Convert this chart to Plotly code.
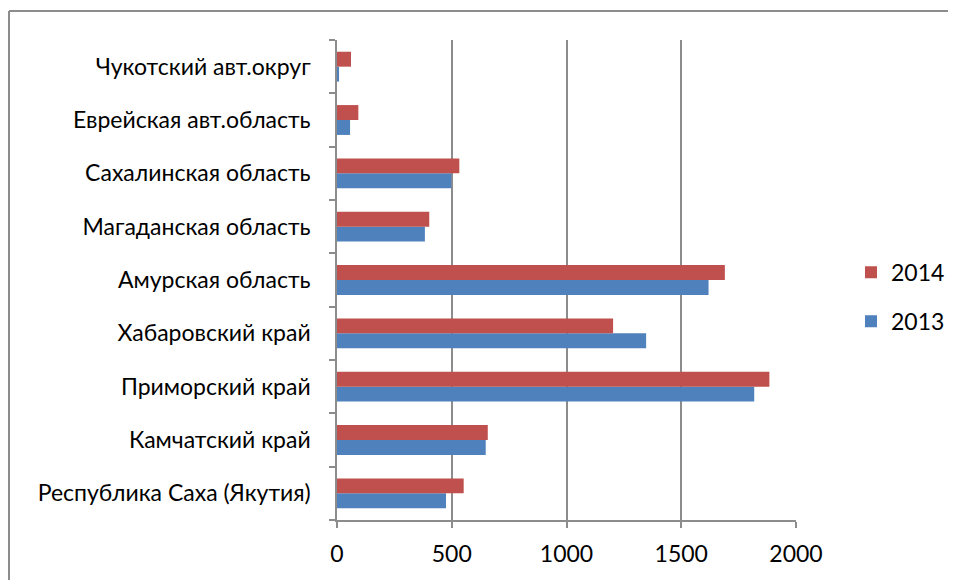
import plotly.graph_objects as go

categories = ["Республика Саха (Якутия)", "Камчатский край", "Приморский край",
              "Хабаровский край", "Амурская область", "Магаданская область",
              "Сахалинская область", "Еврейская авт.область", "Чукотский авт.округ"]
values_2013 = [475, 648, 1818, 1347, 1619, 383, 498, 57, 9]
values_2014 = [552, 657, 1884, 1203, 1690, 402, 533, 93, 61]
x_ticks = [0, 500, 1000, 1500, 2000]

FONT = "Lato"
FS = 23

# page has an 8px body margin; figure origin is at page (8, 8)
L, T, PW, PH = 329, 32, 459, 480

fig = go.Figure()
fig.add_trace(go.Bar(y=categories, x=values_2013, name="2013", orientation="h",
                     marker=dict(color="#4F81BD", line=dict(width=0)),
                     legendgroup="a", legendrank=2))
fig.add_trace(go.Bar(y=categories, x=values_2014, name="2014", orientation="h",
                     marker=dict(color="#C0504D", line=dict(width=0)),
                     legendgroup="b", legendrank=1))

fig.update_layout(
    width=956, height=580,
    margin=dict(l=L, r=956 - L - PW, t=T, b=580 - T - PH, autoexpand=False),
    paper_bgcolor="white", plot_bgcolor="white",
    barmode="group", bargap=0.44, bargroupgap=0,
    font=dict(family=FONT, size=FS, color="black"),
    showlegend=True,
    legend=dict(x=(851 - 337) / PW, y=0.465, xanchor="left", yanchor="middle",
                traceorder="grouped", tracegroupgap=16,
                font=dict(size=FS), itemwidth=30),
    xaxis=dict(range=[0, 2000], tickvals=x_ticks, showgrid=True,
               gridcolor="#8c8c8c", gridwidth=1.5, showline=True,
               linecolor="#8c8c8c", linewidth=1.5, ticks="outside",
               ticklen=6, tickcolor="#8c8c8c", tickwidth=1.5,
               zeroline=False, tickfont=dict(size=FS), ticklabelstandoff=7,
               automargin=False),
    yaxis=dict(categoryorder="array", categoryarray=categories,
               showline=True, linecolor="#8c8c8c", linewidth=1.5,
               ticks="outside", tickson="boundaries", ticklen=6,
               tickcolor="#8c8c8c", tickwidth=1.5, showgrid=False,
               tickfont=dict(size=FS), ticklabelstandoff=20,
               automargin=False),
    shapes=[
        dict(type="line", xref="paper", yref="paper",
             x0=(1 - L) / PW, x1=(1 - L) / PW,
             y0=(T + PH - 3) / PH, y1=(T + PH - 600) / PH,
             line=dict(color="#8c8c8c", width=2)),
        dict(type="line", xref="paper", yref="paper",
             x0=(1 - L) / PW, x1=(980 - L) / PW,
             y0=(T + PH - 3) / PH, y1=(T + PH - 3) / PH,
             line=dict(color="#8c8c8c", width=2)),
    ],
)

fig.write_html("out.html")
